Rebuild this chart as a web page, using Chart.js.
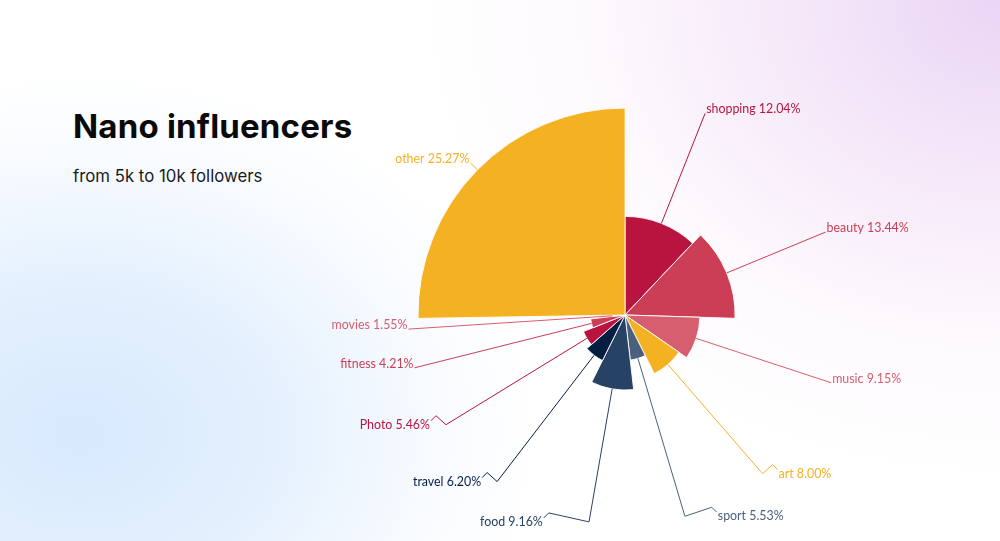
<!DOCTYPE html>
<html>
<head>
<meta charset="utf-8">
<script src="https://cdn.jsdelivr.net/npm/chart.js@4/dist/chart.umd.min.js"></script>
<style>
html, body { margin: 0; padding: 0; }
#wrap {
  position: relative;
  width: 1000px;
  height: 541px;
  overflow: hidden;
  background:
    radial-gradient(ellipse 580px 480px at 100% 0%, rgba(234,213,245,1) 0%, rgba(242,224,247,0.75) 35%, rgba(250,240,250,0.4) 70%, rgba(255,255,255,0) 100%),
    radial-gradient(ellipse 460px 360px at 8% 80%, rgba(216,233,253,1) 0%, rgba(222,237,253,0.85) 40%, rgba(238,245,254,0.45) 75%, rgba(255,255,255,0) 100%),
    #ffffff;
}
#title {
  position: absolute; left: 73px; top: 106px; margin: 0;
  font-family: Inter, sans-serif; font-weight: 700; font-size: 33px;
  color: #0a0a0a; letter-spacing: 0.2px;
}
#subtitle {
  position: absolute; left: 73px; top: 166px; margin: 0;
  font-family: Inter, sans-serif; font-weight: 400; font-size: 16.8px;
  color: #1a1a1a;
}
canvas { position: absolute; left: 0; top: 0; }
</style>
</head>
<body>
<div id="wrap">
  <h1 id="title">Nano influencers</h1>
  <p id="subtitle">from 5k to 10k followers</p>
  <canvas id="chart" width="1000" height="541"></canvas>
</div>
<script>
// categories clockwise from 12 o'clock
const categories = ["shopping", "beauty", "music", "art", "sport", "food", "travel", "Photo", "fitness", "movies", "other"];
// share of followers, %: sets both the slice angle and its radius
const shares = [12.04, 13.44, 9.15, 8.00, 5.53, 9.16, 6.20, 5.46, 4.21, 1.55, 25.27];
const sliceColors = ["#b8143f", "#cc3e55", "#d65e6e", "#f4b122", "#4a607c", "#264264", "#041e42", "#b8143f", "#cc3e55", "#d65e6e", "#f4b122"];

// leader lines + labels next to each slice
const sliceLabels = {
  id: "sliceLabels",
  afterDatasetsDraw(chart) {
    const ctx = chart.ctx;
    const arcs = chart.getDatasetMeta(0).data;
    ctx.save();
    ctx.font = "12.4px Lato, sans-serif";
    ctx.lineWidth = 1;
    arcs.forEach((arc, i) => {
      const p = arc.getProps(["x", "y", "startAngle", "endAngle", "outerRadius"], true);
      const mid = (p.startAngle + p.endAngle) / 2;
      const cos = Math.cos(mid), sin = Math.sin(mid);
      const right = cos >= 0;
      const dir = right ? 1 : -1;
      const deg = ((mid * 180 / Math.PI) + 90 + 360) % 360;
      const hooked = deg > 120 && deg < 245;
      const r1 = hooked ? 210 : 217;
      const sx = p.x + cos * p.outerRadius, sy = p.y + sin * p.outerRadius;
      const ex = p.x + cos * r1, ey = p.y + sin * r1;
      ctx.strokeStyle = sliceColors[i];
      ctx.fillStyle = sliceColors[i];
      ctx.beginPath();
      ctx.moveTo(sx, sy);
      ctx.lineTo(ex, ey);
      let tx = ex + dir * 1, ty = ey - 4;
      if (hooked) {
        // labels near the bottom get pushed further out sideways
        const hookLen = 10 + Math.max(0, 25 - Math.abs(deg - 180)) * 2;
        const hx = ex + dir * hookLen, hy = ey - 9;
        ctx.lineTo(hx, hy);
        ctx.lineTo(hx + dir * 5, hy + 5);
        tx = hx + dir * 6;
        ty = hy + 9;
      }
      ctx.stroke();
      ctx.textAlign = right ? "left" : "right";
      ctx.textBaseline = "middle";
      ctx.fillText(categories[i] + " " + shares[i].toFixed(2) + "%", tx, ty);
    });
    ctx.restore();
  }
};

new Chart(document.getElementById("chart"), {
  type: "polarArea",
  data: {
    labels: categories,
    datasets: [{
      data: shares,
      backgroundColor: sliceColors,
      borderColor: "rgba(255,255,255,0.9)",
      borderWidth: 1,
      angle: c => shares[c.dataIndex] * 3.6
    }]
  },
  options: {
    responsive: false,
    devicePixelRatio: 1,
    animation: false,
    layout: { padding: { left: 418, right: 168, top: 108, bottom: 19 } },
    plugins: { legend: { display: false }, tooltip: { enabled: false } },
    scales: {
      r: {
        min: 0,
        max: Math.max(...shares),
        ticks: { display: false },
        grid: { display: false },
        angleLines: { display: false },
        pointLabels: { display: false }
      }
    }
  },
  plugins: [sliceLabels]
});
</script>
</body>
</html>
